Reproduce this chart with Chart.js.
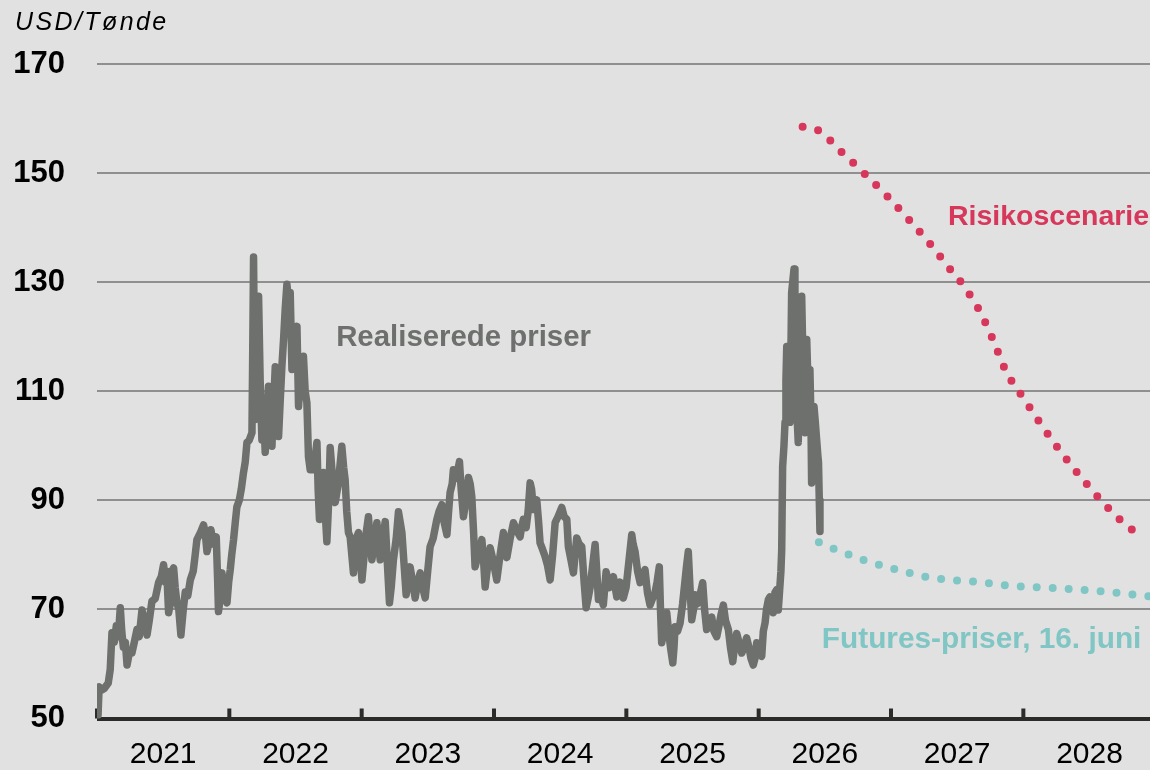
<!DOCTYPE html>
<html><head><meta charset="utf-8">
<script src="https://cdn.jsdelivr.net/npm/chart.js@4/dist/chart.umd.min.js"></script>
<style>html,body{margin:0;padding:0;background:#e1e1e1;}canvas{display:block}</style>
</head><body>
<canvas id="c" width="1150" height="770"></canvas>
<script>
// ---------- DATA ----------
const yearLabels = [2021, 2022, 2023, 2024, 2025, 2026, 2027, 2028];
const yTicks = [50, 70, 90, 110, 130, 150, 170];
const unitLabel = 'USD/Tønde';
const seriesNames = ['Realiserede priser', 'Futures-priser, 16. juni', 'Risikoscenarie'];

const realDates = [2021.008,2021.016,2021.035,2021.055,2021.085,2021.100,2021.113,2021.131,2021.146,2021.161,2021.176,2021.187,2021.199,2021.214,2021.227,2021.244,2021.264,2021.282,2021.302,2021.319,2021.340,2021.357,2021.378,2021.395,2021.415,2021.440,2021.465,2021.486,2021.503,2021.516,2021.527,2021.541,2021.554,2021.565,2021.579,2021.591,2021.604,2021.618,2021.634,2021.652,2021.667,2021.686,2021.705,2021.727,2021.742,2021.755,2021.780,2021.805,2021.818,2021.831,2021.844,2021.861,2021.878,2021.901,2021.912,2021.918,2021.931,2021.944,2021.961,2021.982,2021.995,
2022.007,2022.018,2022.032,2022.045,2022.057,2022.075,2022.090,2022.107,2022.120,2022.133,2022.150,2022.171,2022.177,2022.183,2022.190,2022.196,2022.207,2022.221,2022.233,2022.246,2022.256,2022.271,2022.283,2022.296,2022.309,2022.322,2022.332,2022.347,2022.358,2022.372,2022.384,2022.397,2022.411,2022.422,2022.435,2022.449,2022.460,2022.473,2022.490,2022.511,2022.523,2022.536,2022.547,2022.560,2022.573,2022.586,2022.598,2022.611,2022.636,2022.662,2022.671,2022.681,2022.694,2022.711,2022.724,2022.737,2022.751,2022.762,2022.777,2022.800,2022.823,2022.850,2022.864,2022.875,2022.887,2022.900,2022.913,2022.938,2022.951,2022.964,2022.976,2022.989,
2023.002,2023.019,2023.034,2023.051,2023.064,2023.077,2023.094,2023.115,2023.128,2023.140,2023.159,2023.178,2023.193,2023.210,2023.223,2023.240,2023.261,2023.278,2023.291,2023.304,2023.321,2023.336,2023.351,2023.366,2023.385,2023.404,2023.423,2023.442,2023.461,2023.480,2023.499,2023.517,2023.540,2023.568,2023.585,2023.606,2023.623,2023.644,2023.657,2023.668,2023.684,2023.693,2023.714,2023.739,2023.752,2023.769,2023.789,2023.807,2023.820,2023.832,2023.846,2023.857,2023.880,2023.908,2023.921,2023.933,2023.952,2023.971,2023.993,
2024.021,2024.046,2024.071,2024.084,2024.097,2024.122,2024.147,2024.171,2024.197,2024.208,2024.222,2024.243,2024.258,2024.273,2024.284,2024.298,2024.310,2024.323,2024.337,2024.348,2024.367,2024.386,2024.405,2024.424,2024.443,2024.462,2024.484,2024.512,2024.530,2024.550,2024.562,2024.582,2024.600,2024.625,2024.643,2024.663,2024.681,2024.696,2024.711,2024.726,2024.745,2024.764,2024.779,2024.789,2024.801,2024.826,2024.847,2024.873,2024.902,2024.928,2024.952,2024.977,2024.998,
2025.020,2025.041,2025.051,2025.066,2025.085,2025.104,2025.122,2025.141,2025.160,2025.179,2025.198,2025.217,2025.232,2025.249,2025.258,2025.267,2025.285,2025.305,2025.319,2025.334,2025.351,2025.360,2025.368,2025.387,2025.406,2025.425,2025.444,2025.455,2025.468,2025.481,2025.494,2025.508,2025.519,2025.534,2025.544,2025.560,2025.577,2025.591,2025.607,2025.625,2025.645,2025.662,2025.683,2025.700,2025.715,2025.733,2025.749,2025.771,2025.787,2025.804,2025.817,2025.834,2025.851,2025.872,2025.889,2025.909,2025.927,2025.942,2025.959,2025.972,2025.985,2025.997,
2026.010,2026.023,2026.035,2026.048,2026.059,2026.073,2026.085,2026.101,2026.110,2026.123,2026.136,2026.148,2026.157,2026.168,2026.174,2026.181,2026.191,2026.199,2026.206,2026.212,2026.221,2026.236,2026.244,2026.249,2026.267,2026.274,2026.282,2026.289,2026.299,2026.312,2026.325,2026.335,2026.350,2026.363,2026.372,2026.387,2026.395,2026.400,2026.410,2026.418,2026.429,2026.438,2026.448,2026.452,2026.458,2026.463];

const realPrices = [50.6,55.8,55.2,55.5,56.5,59,65.7,64,67,65,70.3,66,63.1,64,59.8,62,62,64,66.3,65,69.9,68,65.3,68,71.5,72,74.9,76,78.2,75,77,69.4,71,77,77.6,74,71.2,70,65.3,70,73.2,72.5,75.4,77,80,82.8,84,85.5,84,80.6,82,84.6,82,83.3,75,69.6,72,76.7,73,71.2,75,
77.3,80,82.8,86,88.8,90,92,95.1,97,100.6,101,102.4,118,134.6,115,104.8,112,127.4,112,101.1,108,98.8,104,110.9,104,99.9,106,114.5,108,101.7,108,114.5,120,125,129.6,126,128.1,114,119,121.9,107.2,113,110,116.4,110,107.9,98,95.6,95.6,100.6,92,86.5,90,95.1,88,82.4,90,99.7,95,89.6,93,99.9,96,93.8,88,84.1,83.3,76.7,80,83.3,84.1,80,
75.4,80,84,87,83,79.1,82,85.9,82,79.1,83,86.1,79,71.2,74,79.1,83,87.9,86,84.1,78,72.7,75,77.8,75,72.1,75,76.7,74,72.1,77,81.5,83,86.5,88,89.2,86,83.7,88,91.4,93,95.6,94,97.1,92,87,90,94.2,93,90.7,84,77.8,80,82.8,79,74.1,78,81.3,79,
75.4,80,84.1,82,79.5,83,85.9,84.5,83.3,85,86.5,85,88,93.2,92,88.3,89,90.1,86,82.2,81,79.7,78,75.4,80,85.9,87,88.7,87,86.5,81.5,79,76.7,83.1,82,81.5,75,70.3,72,74,78,81.9,76,71.8,73.1,70.8,76.9,74,76,72.3,75,72.1,74,
79,83.7,82,80.6,77,74.9,76,77.3,73,70.8,72,73.1,75,77.8,70,63.9,66,69.4,66,63,60.2,63,66.8,66,67.5,71,75.4,78,80.6,74,68.1,70,72.7,71,71.2,73,74.9,70,66.3,67,68.6,66,65,67,69,70.8,68,66.3,63,60.4,63,65.6,64,62,63,64.8,63,61,59.8,61,63.9,62.6,
62,61.4,66,67.5,70,71.8,72.3,71,69.4,73.1,73.6,69.9,73,77,80.9,96.2,100,104.3,112,118.2,113,104.3,118,128.1,132.4,122,111.6,106,100.6,115,127.4,115,102.4,119.5,112,114,105,93.2,100,107.2,104,101.1,98,97,90,84.3];

const futuresDates = [2026.455, 2026.570, 2026.801, 2027.042, 2027.280, 2027.515, 2027.639, 2027.878, 2028.238, 2028.600, 2028.956];
const futuresPrices = [82.3, 81.1, 79.0, 77.3, 75.9, 75.25, 75.1, 74.4, 73.9, 73.3, 72.4];

const riskDates = [2026.332, 2026.446, 2026.629, 2026.808, 2026.982, 2027.148, 2027.309, 2027.462, 2027.541, 2027.672, 2027.775, 2027.868, 2028.002, 2028.140, 2028.283, 2028.437, 2028.598, 2028.774, 2028.872];
const riskPrices = [158.5, 157.9, 153.8, 149.7, 145.5, 141.1, 136.6, 131.9, 129.6, 124.6, 119.2, 113.7, 108.7, 103.7, 98.9, 94.2, 89.7, 85.5, 83.8];

// ---------- STYLE ----------
const FONT = '"Liberation Sans", Arial, Helvetica, sans-serif';
const GRAY = '#6e706d';
const TEAL = '#7fc6c4';
const RED = '#d6375a';
const AXIS = '#2b2b29';
const BG = '#e1e1e1';

const zip = (xs, ys) => xs.map((x, i) => ({ x: x, y: ys[i] }));

const notes = [
  { text: seriesNames[0], x: 2022.807, y: 119.8, color: GRAY, size: 29.4 },
  { text: seriesNames[2], x: 2027.430, y: 142.0, color: RED, size: 28.5 },
  { text: seriesNames[1], x: 2026.477, y: 64.4, color: TEAL, size: 29.8 }
];

const decor = {
  id: 'decor',
  beforeDraw(chart) {
    const c = chart.ctx;
    c.save();
    c.fillStyle = BG;
    c.fillRect(0, 0, chart.width, chart.height);
    c.restore();
  },
  beforeDatasetsDraw(chart) {
    const c = chart.ctx, xs = chart.scales.x, ys = chart.scales.y;
    const base = ys.getPixelForValue(yTicks[0]);
    c.save();
    c.strokeStyle = AXIS;
    c.lineWidth = 4;
    yearLabels.forEach(yr => {
      const px = xs.getPixelForValue(yr);
      c.beginPath();
      c.moveTo(px, base - 10);
      c.lineTo(px, base);
      c.stroke();
    });
    c.restore();
  },
  afterDatasetsDraw(chart) {
    const c = chart.ctx, xs = chart.scales.x, ys = chart.scales.y;
    c.save();
    c.textBaseline = 'middle';
    c.textAlign = 'left';
    notes.forEach(n => {
      c.font = 'bold ' + n.size + 'px ' + FONT;
      c.fillStyle = n.color;
      c.fillText(n.text, xs.getPixelForValue(n.x), ys.getPixelForValue(n.y));
    });
    c.fillStyle = '#000';
    c.font = 'italic 25px ' + FONT;
    c.textBaseline = 'alphabetic';
    try { c.letterSpacing = '2.4px'; } catch (e) {}
    c.fillText(unitLabel, 15, 30);
    c.restore();
  }
};

new Chart(document.getElementById('c'), {
  type: 'line',
  data: {
    datasets: [
      {
        label: seriesNames[2],
        data: zip(riskDates, riskPrices),
        borderColor: RED,
        borderWidth: 8,
        borderDash: [0, 16],
        borderCapStyle: 'round',
        cubicInterpolationMode: 'monotone',
        pointRadius: 0,
        fill: false
      },
      {
        label: seriesNames[1],
        data: zip(futuresDates, futuresPrices),
        borderColor: TEAL,
        borderWidth: 8,
        borderDash: [0, 16],
        borderCapStyle: 'round',
        cubicInterpolationMode: 'monotone',
        pointRadius: 0,
        fill: false
      },
      {
        label: seriesNames[0],
        data: zip(realDates, realPrices),
        borderColor: GRAY,
        borderWidth: 7.5,
        borderJoinStyle: 'round',
        borderCapStyle: 'round',
        tension: 0,
        pointRadius: 0,
        fill: false
      }
    ]
  },
  options: {
    responsive: false,
    animation: false,
    devicePixelRatio: 1,
    layout: { padding: { top: 64, left: 0, right: 0, bottom: 0 } },
    plugins: { legend: { display: false }, tooltip: { enabled: false } },
    scales: {
      x: {
        type: 'linear',
        min: 2021,
        max: 2028.957,
        afterBuildTicks: s => { s.ticks = yearLabels.map(y => ({ value: y + 0.5 })); },
        ticks: {
          callback: v => String(Math.floor(v)),
          font: { family: FONT, size: 30 },
          color: '#000',
          padding: 18,
          maxRotation: 0,
          autoSkip: false
        },
        grid: { display: true, drawOnChartArea: false, drawTicks: false },
        border: { display: false },
        afterFit: s => { s.height = 51.5; }
      },
      y: {
        type: 'linear',
        min: 50,
        max: 170,
        afterBuildTicks: s => { s.ticks = yTicks.map(v => ({ value: v })); },
        ticks: {
          font: { family: FONT, size: 31, weight: 'bold' },
          color: '#000',
          padding: 32
        },
        grid: {
          color: c => (c.tick && c.tick.value === 50) ? AXIS : '#8f8f8f',
          lineWidth: c => (c.tick && c.tick.value === 50) ? 4 : 2,
          drawTicks: false
        },
        border: { display: false },
        afterFit: s => { s.width = 97; }
      }
    }
  },
  plugins: [decor]
});
</script>
</body></html>
